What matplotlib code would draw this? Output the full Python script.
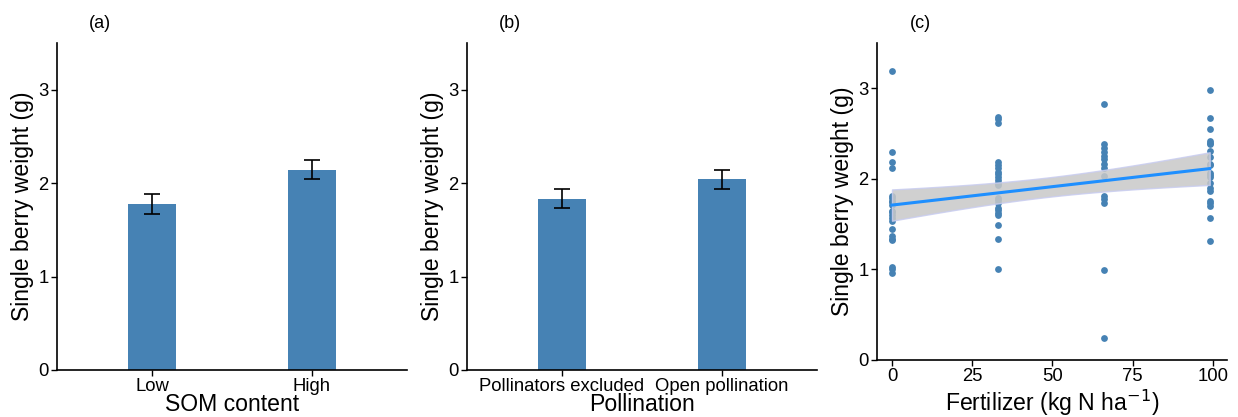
import numpy as np
import matplotlib
matplotlib.use("Agg")
import matplotlib.pyplot as plt

plt.rcParams['font.family'] = ['Liberation Sans', 'DejaVu Sans']

BAR_COLOR = "#4682b4"
LINE_COLOR = "#1e8fff"

# panel (a)
som_levels = ["Low", "High"]
som_means = [1.78, 2.145]
som_se = [0.105, 0.105]

# panel (b)
poll_levels = ["Pollinators excluded", "Open pollination"]
poll_means = [1.835, 2.04]
poll_se = [0.103, 0.105]

# panel (c): berry weights per fertilizer level
fert_levels = [0, 33, 66, 99]
weights_0 = [3.19, 2.30, 2.19, 2.12, 1.81, 1.79, 1.76, 1.74, 1.71, 1.65, 1.63,
             1.60, 1.57, 1.53, 1.45, 1.37, 1.34, 1.32, 1.03, 1.00, 0.96]
weights_33 = [2.685, 2.656, 2.622, 2.188, 2.155, 2.118, 2.077, 2.052, 2.022, 1.985,
              1.959, 1.930, 1.786, 1.764, 1.738, 1.683, 1.654, 1.628, 1.602, 1.488,
              1.333, 1.002]
weights_66 = [2.832, 2.383, 2.339, 2.298, 2.254, 2.214, 2.169, 2.125, 2.033, 1.812,
              1.775, 1.731, 0.998, 0.239]
weights_99 = [2.980, 2.667, 2.545, 2.420, 2.401, 2.383, 2.309, 2.243, 2.169, 2.155,
              2.070, 2.044, 2.015, 1.959, 1.904, 1.867, 1.757, 1.731, 1.702, 1.565,
              1.315]
T_CRIT = 1.99  # t(0.975, df ~ 76)

TICK_FS = 13.3
LABEL_FS = 16.6
PANEL_FS = 13

W, H = 1238, 417
fig = plt.figure(figsize=(W / 100, H / 100), dpi=100)


def px_axes(left, right, top, bottom):
    return fig.add_axes([left / W, (H - bottom) / H, (right - left) / W, (bottom - top) / H])


def style(ax):
    for s in ("top", "right"):
        ax.spines[s].set_visible(False)
    for s in ("left", "bottom"):
        ax.spines[s].set_linewidth(1.2)
    ax.tick_params(labelsize=TICK_FS, length=4, width=1.0, colors="black", pad=2)


def bar_panel(ax, levels, means, se, xlabel, tag):
    pos = np.arange(1, len(levels) + 1)
    ax.bar(pos, means, width=0.3, color=BAR_COLOR, zorder=2)
    ax.errorbar(pos, means, yerr=se, fmt="none", ecolor="black", elinewidth=1.2,
                capsize=6, capthick=1.2, zorder=3)
    ax.set_xlim(0.406, 2.594)
    ax.set_ylim(0, 3.5)
    ax.set_yticks([0, 1, 2, 3])
    ax.set_xticks(pos)
    ax.set_xticklabels(levels)
    ax.set_xlabel(xlabel, fontsize=LABEL_FS, labelpad=-1.5)
    ax.set_ylabel("Single berry weight (g)", fontsize=LABEL_FS, labelpad=3)
    style(ax)
    ax.text(0.123, 1.06, tag, transform=ax.transAxes, fontsize=PANEL_FS, ha="center", va="center")


ax_a = px_axes(57, 407, 43, 370)
bar_panel(ax_a, som_levels, som_means, som_se, "SOM content", "(a)")

ax_b = px_axes(467, 817, 43, 370)
bar_panel(ax_b, poll_levels, poll_means, poll_se, "Pollination", "(b)")

# panel (c)
ax_c = px_axes(877, 1227, 43, 360)
groups = [weights_0, weights_33, weights_66, weights_99]
x = np.concatenate([[f] * len(g) for f, g in zip(fert_levels, groups)]).astype(float)
y = np.concatenate(groups)

slope, intercept = np.polyfit(x, y, 1)
resid = y - (intercept + slope * x)
n = len(x)
s = np.sqrt(np.sum(resid ** 2) / (n - 2))
xg = np.linspace(x.min(), x.max(), 80)
se_fit = s * np.sqrt(1 / n + (xg - x.mean()) ** 2 / np.sum((x - x.mean()) ** 2))
yg = intercept + slope * xg

ax_c.scatter(x, y, s=24, color=BAR_COLOR, linewidths=0, zorder=2)
ax_c.fill_between(xg, yg - T_CRIT * se_fit, yg + T_CRIT * se_fit, facecolor="#c8c8c8",
                  edgecolor="#c9cdf0", linewidth=1.0, alpha=0.85, zorder=3)
ax_c.plot(xg, yg, color=LINE_COLOR, linewidth=2.2, zorder=4)
ax_c.set_xlim(-4.67, 104.4)
ax_c.set_ylim(0, 3.5)
ax_c.set_xticks([0, 25, 50, 75, 100])
ax_c.set_yticks([0, 1, 2, 3])
ax_c.set_xlabel("Fertilizer (kg N ha$^{-1}$)", fontsize=LABEL_FS, labelpad=2)
ax_c.set_ylabel("Single berry weight (g)", fontsize=LABEL_FS, labelpad=3)
style(ax_c)
ax_c.text(0.123, 1.06, "(c)", transform=ax_c.transAxes, fontsize=PANEL_FS, ha="center", va="center")

fig.savefig("out.png", dpi=100)
